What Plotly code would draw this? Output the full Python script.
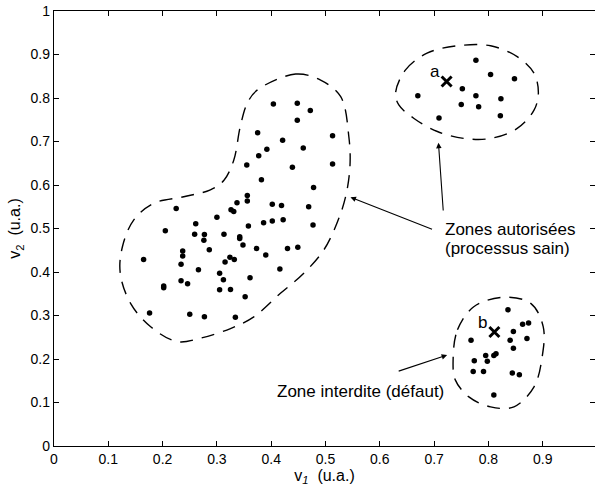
import plotly.graph_objects as go

# ---- data ----
big_x = [0.404,0.448,0.472,0.448,0.375,0.421,0.513,0.392,0.459,0.377,0.355,0.439,0.513,0.382,0.478,
         0.356,0.356,0.337,0.326,0.331,0.402,0.419,0.469,0.225,0.300,0.261,0.358,0.386,0.402,0.422,
         0.477,0.205,0.259,0.277,0.276,0.313,0.342,0.342,0.348,0.373,0.390,0.430,0.449,0.286,0.237,
         0.237,0.165,0.234,0.324,0.332,0.315,0.266,0.305,0.416,0.234,0.246,0.312,0.361,0.202,0.202,
         0.305,0.325,0.352,0.176,0.250,0.277,0.334]
big_y = [0.786,0.788,0.771,0.749,0.720,0.703,0.713,0.682,0.685,0.667,0.646,0.641,0.648,0.612,0.594,
         0.576,0.563,0.559,0.543,0.539,0.556,0.553,0.550,0.546,0.526,0.511,0.506,0.513,0.517,0.520,
         0.508,0.495,0.487,0.486,0.473,0.487,0.481,0.477,0.462,0.454,0.439,0.454,0.457,0.451,0.448,
         0.437,0.429,0.418,0.434,0.429,0.423,0.405,0.397,0.407,0.380,0.373,0.382,0.387,0.368,0.364,
         0.359,0.360,0.343,0.306,0.303,0.297,0.296]

tr_x = [0.777,0.804,0.848,0.752,0.670,0.777,0.823,0.750,0.782,0.822,0.709]
tr_y = [0.887,0.854,0.844,0.821,0.805,0.805,0.798,0.785,0.780,0.759,0.754]

br_x = [0.836,0.863,0.874,0.846,0.768,0.840,0.871,0.846,0.814,0.810,0.795,0.798,0.774,0.772,0.791,0.844,0.857,0.810]
br_y = [0.313,0.280,0.283,0.263,0.243,0.243,0.247,0.225,0.212,0.208,0.208,0.195,0.196,0.171,0.171,0.168,0.164,0.117]

cross_x = [0.723, 0.811]
cross_y = [0.838, 0.262]
cross_labels = ["a", "b"]

# outlines of the zones
big_ox = [0.374,0.445,0.491,0.528,0.543,0.545,0.537,0.521,0.497,0.460,0.417,0.368,0.325,0.270,0.227,
          0.178,0.141,0.122,0.126,0.147,0.184,0.239,0.288,0.313,0.331,0.343,0.356,0.374]
big_oy = [0.818,0.855,0.841,0.803,0.711,0.642,0.573,0.512,0.451,0.397,0.351,0.297,0.270,0.248,0.240,
          0.274,0.328,0.397,0.458,0.520,0.558,0.573,0.589,0.611,0.657,0.734,0.788,0.818]
tr_ox = [0.629,0.647,0.687,0.743,0.804,0.853,0.884,0.892,0.884,0.853,0.804,0.755,0.706,0.663,0.635,0.629]
tr_oy = [0.811,0.864,0.903,0.920,0.920,0.895,0.857,0.811,0.772,0.730,0.707,0.707,0.723,0.753,0.784,0.811]
br_ox = [0.735,0.743,0.773,0.828,0.878,0.901,0.899,0.884,0.847,0.804,0.764,0.739,0.735]
br_oy = [0.198,0.267,0.320,0.342,0.328,0.274,0.205,0.136,0.090,0.090,0.113,0.152,0.198]

x_ticks = [0,0.1,0.2,0.3,0.4,0.5,0.6,0.7,0.8,0.9]
y_ticks = [0,0.1,0.2,0.3,0.4,0.5,0.6,0.7,0.8,0.9,1]

FONT = "Liberation Sans, Arial, sans-serif"

fig = go.Figure()

for ox, oy in [(big_ox, big_oy), (tr_ox, tr_oy), (br_ox, br_oy)]:
    fig.add_trace(go.Scatter(x=ox, y=oy, mode="lines",
                             line=dict(color="black", width=1.4, dash="13px,9px", shape="spline", smoothing=1.0),
                             hoverinfo="skip", showlegend=False))

for xs, ys in [(big_x, big_y), (tr_x, tr_y), (br_x, br_y)]:
    fig.add_trace(go.Scatter(x=xs, y=ys, mode="markers",
                             marker=dict(color="black", size=5.5), showlegend=False))

fig.add_trace(go.Scatter(x=cross_x, y=cross_y, mode="markers",
                         marker=dict(symbol="x-thin", size=10, line=dict(color="black", width=3)),
                         showlegend=False))

for cx, cy, lab in zip(cross_x, cross_y, cross_labels):
    fig.add_annotation(x=cx, y=cy, text=lab, showarrow=False, xanchor="right", yanchor="bottom",
                       xshift=-5, yshift=-2, font=dict(size=17, color="black", family=FONT))

# arrows
arrows = [((0.699, 0.497), (0.546, 0.572)),
          ((0.717, 0.538), (0.708, 0.697)),
          ((0.632, 0.171), (0.724, 0.209))]
for (tx, ty), (hx, hy) in arrows:
    fig.add_annotation(x=hx, y=hy, ax=tx, ay=ty, xref="x", yref="y", axref="x", ayref="y",
                       text="", showarrow=True, arrowhead=2, arrowsize=1, arrowwidth=1.1,
                       arrowcolor="black")

fig.add_annotation(x=0.716, y=0.497, text="Zones autorisées", showarrow=False,
                   xanchor="left", yanchor="middle",
                   font=dict(size=17, color="black", family=FONT))
fig.add_annotation(x=0.716, y=0.455, text="(processus sain)", showarrow=False,
                   xanchor="left", yanchor="middle",
                   font=dict(size=17, color="black", family=FONT))
fig.add_annotation(x=0.722, y=0.126, text="Zone interdite (défaut)", showarrow=False,
                   xanchor="right", yanchor="middle",
                   font=dict(size=17, color="black", family=FONT))

fig.update_layout(
    width=595, height=487,
    margin=dict(l=54, r=0, t=11, b=41, pad=0),
    paper_bgcolor="white", plot_bgcolor="white",
    font=dict(family=FONT, size=14, color="black"),
    showlegend=False,
)
fig.update_xaxes(range=[0, 0.9963], tickvals=x_ticks, ticktext=[f"{v:g}" for v in x_ticks],
                 ticks="inside", ticklen=5, tickcolor="black", showline=True, linecolor="black",
                 linewidth=1.4, mirror="ticks", showgrid=False, zeroline=False, automargin=False,
                 tickfont=dict(size=14),
                 title=dict(text="v<sub><i>1</i></sub>  (u.a.)", standoff=2, font=dict(size=16)))
fig.update_yaxes(range=[0, 1], tickvals=y_ticks, ticktext=[f"{v:g}" for v in y_ticks],
                 ticks="inside", ticklen=5, tickcolor="black", showline=True, linecolor="black",
                 linewidth=1.4, mirror="ticks", showgrid=False, zeroline=False, automargin=False,
                 tickfont=dict(size=14),
                 title=dict(text="v<sub>2</sub>  (u.a.)", standoff=5, font=dict(size=16)))

fig.write_html("out.html", config={"displayModeBar": False},
               post_script="document.body.style.margin='0';document.body.style.overflow='hidden';")
